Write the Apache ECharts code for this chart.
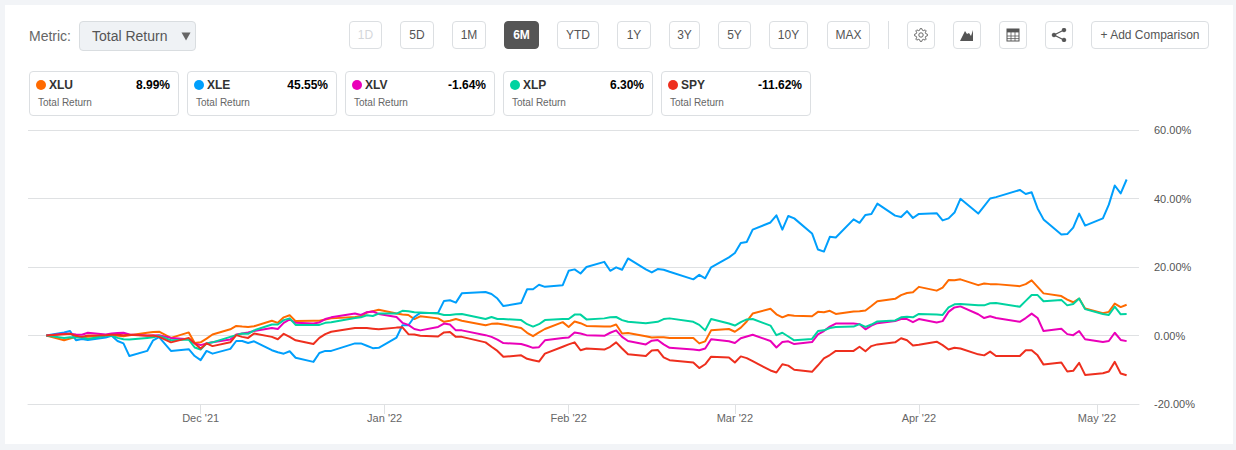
<!DOCTYPE html>
<html><head><meta charset="utf-8">
<script src="https://cdn.jsdelivr.net/npm/echarts@6/dist/echarts.min.js"></script>
<style>
html,body{margin:0;padding:0;width:1236px;height:450px;overflow:hidden;background:#f2f4f7;font-family:"Liberation Sans",Arial,sans-serif;}
#card{position:absolute;left:5px;top:5px;width:1228px;height:439px;background:#fff;}
#chart{position:absolute;left:0;top:0;width:1236px;height:450px;}
.abs{position:absolute;box-sizing:border-box;}
.btn{top:21px;height:28px;border:1px solid #dcdfe2;border-radius:4px;background:#fff;color:#555;font-size:12px;line-height:26px;text-align:center;}
.btn.on{background:#555;border-color:#555;color:#fff;font-weight:bold;}
.btn.off{color:#d4d7da;}
.tile{top:71px;height:45px;border:1px solid #dcdfe2;border-radius:4px;background:#fff;}
.dot{position:absolute;left:6px;top:8px;width:10px;height:10px;border-radius:50%;}
.nm{position:absolute;left:19px;top:6px;font-size:12px;line-height:14px;color:#333;font-weight:bold;}
.val{position:absolute;right:8px;top:6px;font-size:12px;line-height:14px;color:#000;font-weight:bold;}
.sub{position:absolute;left:8px;top:25px;font-size:10px;line-height:12px;color:#666;}
</style></head><body>
<div id="card"></div>
<div class="abs" style="left:29px;top:28px;font-size:14px;line-height:16px;color:#666;">Metric:</div>
<div class="abs" style="left:79px;top:21px;width:117px;height:30px;background:#eff2f5;border:1px solid #d9dde0;border-radius:4px;font-size:14px;line-height:28px;color:#555;padding-left:12px;">Total Return<svg style="position:absolute;left:101px;top:10px" width="10" height="9" viewBox="0 0 10 9"><path d="M0.5 0.5H9.5L5 8.5Z" fill="#666"/></svg></div>
<div class="abs" style="left:888px;top:21px;width:1px;height:28px;background:#dcdfe2;"></div>
<div id="top"></div>
<div id="chart"></div>
<script>
const rangeLabels = ['1D','5D','1M','6M','YTD','1Y','3Y','5Y','10Y','MAX'];
const rangeLeft  = [349,400,452,504,557,617,669,718,769,827];
const rangeWidth = [33,34,34,35,42,34,31,33,39,43];
const seriesNames = ['XLU','XLE','XLV','XLP','SPY'];
const seriesColors = ['#ff6a00','#009ffc','#ea00b9','#00d3a0','#ee2f1e'];
const seriesFinal = ['8.99%','45.55%','-1.64%','6.30%','-11.62%'];
const tileLeft = [29,187,345,503,661];
const monthTicks = ['2021-12-01','2022-01-01','2022-02-01','2022-03-01','2022-04-01','2022-05-01'];
const monthLabels = ["Dec '21","Jan '22","Feb '22","Mar '22","Apr '22","May '22"];
const dates = ['2021-11-05','2021-11-08','2021-11-09','2021-11-10','2021-11-11','2021-11-12','2021-11-15','2021-11-16','2021-11-17','2021-11-18','2021-11-19','2021-11-22','2021-11-23','2021-11-24','2021-11-26','2021-11-29','2021-11-30',
'2021-12-01','2021-12-02','2021-12-03','2021-12-06','2021-12-07','2021-12-08','2021-12-09','2021-12-10','2021-12-13','2021-12-14','2021-12-15','2021-12-16','2021-12-17','2021-12-20','2021-12-21','2021-12-22','2021-12-23','2021-12-27','2021-12-28','2021-12-29','2021-12-30','2021-12-31',
'2022-01-03','2022-01-04','2022-01-05','2022-01-06','2022-01-07','2022-01-10','2022-01-11','2022-01-12','2022-01-13','2022-01-14','2022-01-18','2022-01-19','2022-01-20','2022-01-21','2022-01-24','2022-01-25','2022-01-26','2022-01-27','2022-01-28','2022-01-31',
'2022-02-01','2022-02-02','2022-02-03','2022-02-04','2022-02-07','2022-02-08','2022-02-09','2022-02-10','2022-02-11','2022-02-14','2022-02-15','2022-02-16','2022-02-17','2022-02-18','2022-02-22','2022-02-23','2022-02-24','2022-02-25','2022-02-28',
'2022-03-01','2022-03-02','2022-03-03','2022-03-04','2022-03-07','2022-03-08','2022-03-09','2022-03-10','2022-03-11','2022-03-14','2022-03-15','2022-03-16','2022-03-17','2022-03-18','2022-03-21','2022-03-22','2022-03-23','2022-03-24','2022-03-25','2022-03-28','2022-03-29','2022-03-30','2022-03-31',
'2022-04-01','2022-04-04','2022-04-05','2022-04-06','2022-04-07','2022-04-08','2022-04-11','2022-04-12','2022-04-13','2022-04-14','2022-04-18','2022-04-19','2022-04-20','2022-04-21','2022-04-22','2022-04-25','2022-04-26','2022-04-27','2022-04-28','2022-04-29',
'2022-05-02','2022-05-03','2022-05-04','2022-05-05','2022-05-06'];
const xlu = [0,-1.4,-0.9,-0.4,-0.5,-0.4,0.1,0.1,-0.1,-0.2,0.1,0.8,1.0,1.1,-0.7,0.9,-2.2,-2.0,-0.9,0.3,1.8,2.8,2.6,2.5,2.7,4.3,3.7,5.3,5.9,4.2,4.3,4.3,4.7,5.0,5.4,5.6,6.7,7.1,7.5,
6.4,6.1,6.0,4.8,5.6,5.0,4.0,4.3,4.8,4.3,3.0,3.4,3.5,3.2,2.2,0.8,-0.2,0.9,1.9,3.9,
2.5,4.1,3.6,2.8,2.6,2.6,3.2,0.6,0.7,-0.2,-0.6,-0.5,-0.5,-0.7,-0.7,-2.3,-1.7,1.5,1.9,
1.1,2.3,4.1,6.4,7.8,6.2,5.3,6.0,5.8,5.6,6.9,6.8,7.2,6.3,7.0,7.1,7.3,8.6,10.0,10.7,11.8,12.4,12.6,
14.2,13.1,14.0,16.2,16.1,16.4,14.7,15.2,15.0,15.0,14.4,15.0,16.1,14.2,12.3,11.5,10.5,9.7,10.8,7.9,
6.5,6.9,9.3,8.3,8.99];
const xle = [0,0.9,1.3,-1.4,-1.0,-1.3,-0.6,-0.1,-1.6,-2.3,-6.0,-4.5,-1.4,-0.5,-4.5,-4.0,-6.0,-7.2,-4.5,-5.3,-3.9,-1.6,-1.6,-2.2,-1.7,-4.3,-4.9,-5.3,-4.6,-6.5,-7.7,-5.1,-4.5,-4.5,-2.3,-2.3,-3.0,-3.7,-3.6,
-0.6,3.0,3.0,5.4,6.6,6.6,10.1,10.3,9.6,12.3,12.7,12.1,10.8,8.6,9.5,13.5,13.5,14.8,14.2,14.7,
18.9,19.3,18.1,20.0,21.5,18.9,19.9,19.2,22.5,19.3,18.4,19.4,19.2,18.6,16.4,17.7,16.7,19.9,22.8,
24.1,27.0,27.3,30.9,33.0,35.1,30.9,34.9,34.2,29.8,25.1,24.5,28.8,28.6,33.9,32.9,35.2,35.5,38.5,35.0,34.6,36.3,34.3,
35.5,35.7,33.6,34.2,35.9,39.9,35.6,37.8,40.0,40.4,42.5,41.3,41.8,37.1,33.9,29.5,29.6,31.5,35.6,32.1,
34.2,38.2,43.8,41.5,45.55];
const xlv = [0,0.5,0.5,0.3,0.2,0.8,0.3,0.6,0.7,0.8,0.3,0,0,0.1,-0.7,-1.1,-2.3,-2.8,-2.3,-2.0,-1.2,0.3,0.6,0.9,1.3,2.2,1.9,3.7,4.7,3.7,3.5,3.8,4.8,5.3,6.4,6.0,6.8,7.0,6.3,
5.4,3.7,3.1,1.9,1.5,2.5,3.5,3.2,1.5,1.5,0.1,-0.4,-1.2,-2.2,-2.5,-3.0,-3.6,-3.4,-1.4,-0.7,
-0.6,0.9,0.6,0.1,-0.1,0.8,1.5,-0.4,-1.6,-2.6,-1.5,-1.3,-2.6,-3.6,-4.1,-4.3,-3.8,-1.1,-1.7,
-2.2,-0.8,-0.3,0.2,-1.6,-3.5,-1.9,-1.7,-2.5,-1.9,0.3,1.3,2.6,3.5,3.5,3.3,1.8,2.9,3.6,4.2,4.8,4.8,3.9,
4.8,3.8,4.2,6.9,8.2,8.5,6.2,5.1,5.6,5.1,4.0,5.1,6.4,5.1,1.3,2.0,0.4,0.1,1.3,-1.1,
-1.9,-1.6,0.8,-1.3,-1.64];
const xlp = [0,-0.7,-0.5,-0.6,-0.6,-1.0,-0.1,0,-0.7,-1.1,-1.2,-0.7,-0.5,-0.1,-1.4,-1.2,-3.5,-4.1,-2.3,-2.0,-0.4,0.1,0.6,0.5,1.5,3.2,3.2,4.5,5.0,3.1,3.1,3.1,3.7,3.9,5.1,5.3,5.9,5.7,6.4,
6.4,7.2,7.1,6.8,6.7,6.4,6.0,6.0,6.2,6.3,4.8,5.4,4.8,4.8,4.5,3.3,2.6,3.3,4.5,4.8,
4.8,6.1,6.1,4.7,5.0,5.3,5.4,4.5,4.0,3.6,3.8,4.0,4.8,5.0,4.0,3.1,1.5,4.8,3.5,
2.9,3.9,4.7,4.8,2.9,0.1,0.8,-0.3,-1.4,-1.0,1.3,1.5,2.2,2.5,2.6,3.3,2.5,3.2,4.1,4.4,5.3,5.5,5.3,
6.3,6.1,6.0,8.2,9.1,9.2,8.8,8.8,9.4,9.5,8.4,10.1,11.8,11.8,10.0,10.4,8.8,9.2,10.8,7.7,
6.3,6.0,8.4,6.2,6.30];
const spy = [0,0.4,0.5,-0.1,-0.4,0,0.1,0.2,0.2,0.1,0.2,-0.1,0,-0.4,-2.0,-0.7,-2.3,-3.8,-2.3,-3.1,-2.0,0.1,-0.4,-0.7,0.6,-0.4,-1.1,0.5,-0.4,-1.4,-2.5,-0.7,0.4,1.1,2.2,2.2,2.2,2.0,1.8,
2.3,2.4,0.4,0.3,-0.1,-0.3,0.9,1.0,-0.4,-0.4,-2.0,-3.3,-4.5,-6.2,-5.8,-6.8,-7.2,-7.6,-5.3,-3.3,
-2.6,-2.0,-4.3,-3.8,-4.1,-3.3,-2.0,-3.8,-5.5,-6.0,-4.4,-4.2,-6.4,-7.2,-7.9,-9.5,-8.4,-6.2,-6.4,
-7.9,-6.1,-6.6,-7.5,-10.2,-10.8,-8.4,-8.8,-10.0,-10.6,-8.7,-6.7,-5.7,-4.5,-4.5,-3.3,-4.6,-3.1,-2.6,-2.0,-0.8,-1.4,-2.9,
-2.7,-1.8,-2.8,-4.1,-3.6,-3.8,-5.5,-5.8,-4.7,-6.0,-6.0,-4.3,-4.3,-5.8,-8.5,-7.9,-10.5,-10.3,-8.0,-11.5,
-11.0,-10.5,-7.7,-11.1,-11.62];
const seriesData = [xlu,xle,xlv,xlp,spy];

const gearPath = (()=>{let d='';const n=8;for(let i=0;i<n*4;i++){const a=(i-0.5)/(n*4)*Math.PI*2;const r=(i%4<2)?6.6:4.9;d+=(i?'L':'M')+(7+r*Math.cos(a)).toFixed(2)+' '+(7+r*Math.sin(a)).toFixed(2);}return d+'Z';})();
const icons = [
 `<svg width="14" height="14" viewBox="0 0 14 14" fill="none" stroke="#666" stroke-width="1"><path d="${gearPath}"/><circle cx="7" cy="7" r="2.2"/></svg>`,
 '<svg width="16" height="14" viewBox="0 0 16 14" fill="#555"><path d="M1 13L6 3l2 3 2-1 2 3 2-6v11z"/></svg>',
 '<svg width="14" height="14" viewBox="0 0 14 14"><rect x="1" y="1" width="12" height="12" fill="#fff" stroke="#555"/><rect x="1" y="1" width="12" height="3.4" fill="#555"/><path d="M1 8h12M1 10.6h12M5 4v9M9 4v9" stroke="#555" stroke-width=".8"/></svg>',
 '<svg width="16" height="14" viewBox="0 0 16 14" fill="#555" stroke="#555"><path d="M13 2L3 7l10 5" fill="none" stroke-width="1.2"/><circle cx="3" cy="7" r="1.8"/><circle cx="13" cy="2" r="1.8"/><circle cx="13" cy="12" r="1.8"/></svg>'
];
const iconLeft = [907,953,999,1045];
let html = '';
rangeLabels.forEach((t,i)=>{
  const cls = t==='6M'?' on':(t==='1D'?' off':'');
  html += `<div class="abs btn${cls}" style="left:${rangeLeft[i]}px;width:${rangeWidth[i]}px">${t}</div>`;
});
icons.forEach((s,i)=>{
  html += `<div class="abs btn" style="left:${iconLeft[i]}px;width:28px;padding-top:6px;line-height:0">${s}</div>`;
});
html += `<div class="abs btn" style="left:1091px;width:118px">+ Add Comparison</div>`;
seriesNames.forEach((n,i)=>{
  html += `<div class="abs tile" style="left:${tileLeft[i]}px;width:150px"><span class="dot" style="background:${seriesColors[i]}"></span><span class="nm">${n}</span><span class="val">${seriesFinal[i]}</span><span class="sub">Total Return</span></div>`;
});
document.getElementById('top').innerHTML = html;

const chart = echarts.init(document.getElementById('chart'), null, {renderer:'svg', width:1236, height:450});
const toTime = s => { const p = s.split('-').map(Number); return new Date(p[0],p[1]-1,p[2]).getTime(); };
const tickTimes = monthTicks.map(toTime);
chart.setOption({
  animation:false,
  backgroundColor:'transparent',
  grid:{left:28,right:97,top:130,bottom:46},
  xAxis:{
    type:'value',
    scale:true,
    min:new Date(2021,10,1,22).getTime(),
    max:new Date(2022,4,8,2).getTime(),
    splitLine:{show:false},
    axisLine:{show:true,onZero:false,lineStyle:{color:'#dfe1e3',width:1}},
    axisTick:{show:true,customValues:tickTimes,length:10,lineStyle:{color:'#dfe1e3',width:1}},
    axisLabel:{show:true,customValues:tickTimes,margin:8,color:'#666',fontSize:11,fontFamily:'Liberation Sans',
      formatter:v=>{const i=tickTimes.indexOf(+v);return i>=0?monthLabels[i]:'';}}
  },
  yAxis:{
    type:'value',position:'right',min:-20,max:60,interval:20,
    axisLine:{show:false},axisTick:{show:false},
    splitLine:{show:true,lineStyle:{color:'#dfe1e3',width:1}},
    axisLabel:{margin:15,color:'#555',fontSize:11,fontFamily:'Liberation Sans',formatter:v=>v.toFixed(2)+'%'}
  },
  series:seriesNames.map((n,i)=>({
    name:n,type:'line',showSymbol:false,symbol:'none',smooth:false,
    lineStyle:{color:seriesColors[i],width:2,join:'round'},
    data:dates.map((d,j)=>[toTime(d),seriesData[i][j]])
  }))
});
</script>
</body></html>
